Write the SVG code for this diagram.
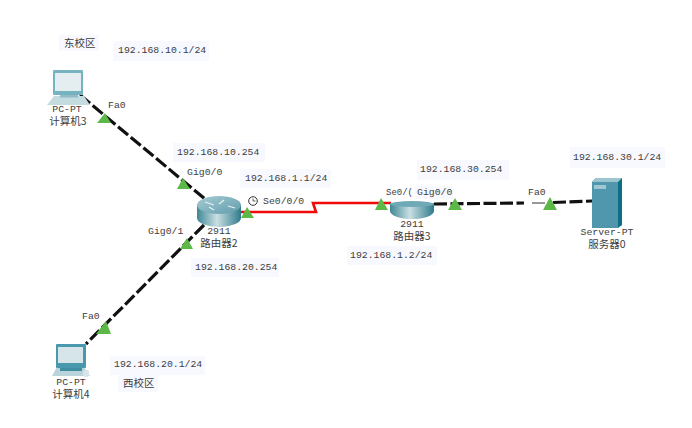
<svg xmlns="http://www.w3.org/2000/svg" width="692" height="428" viewBox="0 0 692 428">
<style>
text{font-family:"Liberation Mono","Noto Sans CJK SC",monospace;font-size:9.8px;fill:#3d3d3d}
.cn{font-family:"Noto Sans CJK SC","Liberation Sans",sans-serif;font-size:10.500px}
.m{text-anchor:middle}
.bg{fill:#f8f8ff}
.eth{fill:none;stroke:#111;stroke-width:3.200;stroke-dasharray:13 3.500}
.ser{fill:none;stroke:#f00a0a;stroke-width:2.600}
.tri{fill:#5cb947}
</style>
<defs>
<linearGradient id="rs" x1="0" x2="1" y1="0" y2="0"><stop offset="0" stop-color="#3f8795"/><stop offset=".45" stop-color="#c9dfe3"/><stop offset="1" stop-color="#2f7a8b"/></linearGradient>
<linearGradient id="rt" x1="0" x2="1" y1="0" y2="1"><stop offset="0" stop-color="#a6cbd3"/><stop offset="1" stop-color="#5f9dab"/></linearGradient>
</defs>
<rect width="692" height="428" fill="#fff"/>
<g id="connectors">
<path class="eth" d="M80 95L205 199"/>
<path class="eth" d="M204 225L86 344"/>
<path class="ser" d="M240 212H316L313 203H391"/>
<path class="eth" d="M434 204L524 203"/>
<path d="M532 203H545" stroke="#333" stroke-width="1"/>
<path class="eth" d="M553 202.500L592 201"/>
</g>
<g id="pc3">
<path d="M47 105L54 96H84L90 105Z" fill="#c4dbe0"/>
<rect x="53" y="70" width="30" height="25" rx="1" fill="#75b3c1"/>
<rect x="55" y="73" width="26" height="18" fill="#e4eef1"/>
<rect x="60" y="95" width="18" height="2.500" fill="#8fbcc7"/>
<text class="m" x="67" y="112">PC-PT</text>
<text class="cn m" x="68" y="125">计算机3</text>
</g>
<g id="router2">
<path d="M197 205V218A22 9 0 0 0 241 218V205Z" fill="url(#rs)"/>
<ellipse cx="219" cy="205" rx="22" ry="9" fill="url(#rt)"/>
<path d="M205 202L214 205M224 200L219 204M228 206L235 208M214 210L209 207" stroke="#e6f1f3" stroke-width="1.300"/>
<text class="m" x="219" y="234">2911</text>
<text class="cn m" x="219" y="247">路由器2</text>
</g>
<g id="router3">
<path d="M390 203V211A22 8 0 0 0 434 211V203Z" fill="url(#rs)"/>
<ellipse cx="412" cy="204" rx="22" ry="3" fill="#6fa9b6"/>
<text class="m" x="412" y="227">2911</text>
<text class="cn m" x="412" y="240">路由器3</text>
</g>
<g id="server0">
<path d="M592 182L596 178H622V225L618 228H592Z" fill="#0d6f85"/>
<path d="M592 182L596 178H622L618 182Z" fill="#9cc5cf"/>
<rect x="592" y="182" width="26" height="46" fill="#5097ad"/>
<rect x="594" y="185" width="12" height="4" fill="#9fc6d1"/>
<text class="m" x="607" y="235">Server-PT</text>
<text class="cn m" x="607" y="248">服务器0</text>
</g>
<g id="pc4">
<path d="M52 376L57 367H84L90 376Z" fill="#b9d5db"/>
<rect x="56" y="344" width="30" height="24" rx="1" fill="#4a98ab"/>
<rect x="58" y="347" width="25" height="16" fill="#d5e5ea"/>
<rect x="60" y="368" width="22" height="3" fill="#3f8ea2"/>
<rect x="83" y="370" width="6" height="7" rx="2" fill="#d5e5ea"/>
<text class="m" x="71" y="385">PC-PT</text>
<text class="cn m" x="71" y="398">计算机4</text>
</g>
<g id="markers">
<path class="tri" d="M97 123L105 113L111 123Z"/>
<path class="tri" d="M177 189L183 178L190 189Z"/>
<path class="tri" d="M241 218L247 207L254 218Z"/>
<path class="tri" d="M180 249L187 238L193 249Z"/>
<path class="tri" d="M375 210L381 198L388 210Z"/>
<path class="tri" d="M448 210L455 198L462 210Z"/>
<path class="tri" d="M543 210L550 197L557 210Z"/>
<path class="tri" d="M96 334L106 321L111 334Z"/>
<circle cx="253" cy="201" r="4.300" fill="#fff" stroke="#333"/>
<path d="M253 198.500V201H255.500" fill="none" stroke="#333" stroke-width=".8"/>
</g>
<g id="labels">
<rect class="bg" x="59" y="35" width="40" height="16"/><text class="cn" x="64" y="47">东校区</text>
<rect class="bg" x="113" y="41" width="96" height="20"/><text x="118" y="53">192.168.10.1/24</text>
<text x="108" y="108">Fa0</text>
<rect class="bg" x="173" y="143" width="92" height="19"/><text x="177" y="155">192.168.10.254</text>
<text x="187" y="175">Gig0/0</text>
<rect class="bg" x="240" y="169" width="91" height="19"/><text x="245" y="181">192.168.1.1/24</text>
<text x="263" y="204">Se0/0/0</text>
<text x="148" y="234">Gig0/1</text>
<rect class="bg" x="191" y="258" width="88" height="19"/><text x="195" y="270">192.168.20.254</text>
<rect class="bg" x="347" y="246" width="90" height="19"/><text x="350" y="258">192.168.1.2/24</text>
<rect class="bg" x="417" y="160" width="92" height="20"/><text x="420" y="172">192.168.30.254</text>
<text x="386" y="195" style="font-size:9px">Se0/(</text>
<rect class="bg" x="415" y="186" width="38" height="13"/><text x="417" y="195">Gig0/0</text>
<text x="528" y="195">Fa0</text>
<rect class="bg" x="570" y="147" width="95" height="21"/><text x="573" y="160">192.168.30.1/24</text>
<text x="82" y="319">Fa0</text>
<rect class="bg" x="110" y="356" width="95" height="19"/><text x="114" y="367">192.168.20.1/24</text>
<rect class="bg" x="118" y="375" width="40" height="17"/><text class="cn" x="123" y="387">西校区</text>
</g>
</svg>
